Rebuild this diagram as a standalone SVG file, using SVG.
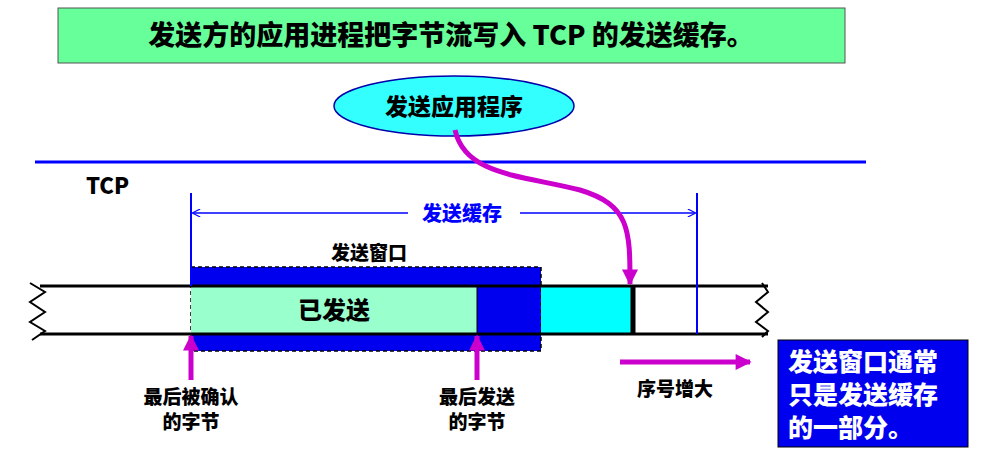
<svg xmlns="http://www.w3.org/2000/svg" width="985" height="459" viewBox="0 0 985 459">
<style>
text{font-family:"Noto Sans CJK SC","Liberation Sans",sans-serif;font-weight:900;}
.mag{stroke:#cc00cc;stroke-width:5;fill:none}
</style>
<defs>
<marker id="ah" viewBox="0 0 10 10" refX="9" refY="5" markerWidth="18" markerHeight="16" markerUnits="userSpaceOnUse" orient="auto"><path d="M0,0L10,5L0,10z" fill="#cc00cc"/></marker>
<marker id="bl" viewBox="0 0 10 10" refX="9" refY="5" markerWidth="10" markerHeight="8" markerUnits="userSpaceOnUse" orient="auto-start-reverse"><path d="M0,0L10,5L0,10" fill="none" stroke="#0000ff" stroke-width="1.5"/></marker>
</defs>
<rect width="985" height="459" fill="#fff"/>
<g id="title"><rect x="58" y="8" width="787" height="55" fill="#66ff99" stroke="#555"/><text x="451" y="45" font-size="27" text-anchor="middle">发送方的应用进程把字节流写入 TCP 的发送缓存。</text></g>
<g id="app"><ellipse cx="454" cy="106" rx="120" ry="30" fill="#33ffff" stroke="#0000aa" stroke-width="1.5"/><text x="454" y="115" font-size="23" text-anchor="middle">发送应用程序</text></g>
<line x1="35" y1="162" x2="866" y2="162" stroke="#0000ff" stroke-width="3"/>
<text x="86" y="194" font-size="22">TCP</text>
<g id="strip">
<rect x="191" y="267" width="350" height="84" fill="#0000ee" stroke="#000" stroke-dasharray="4,3" stroke-width="1.5"/>
<rect x="191" y="286" width="286" height="48" fill="#99ffcc"/>
<rect x="541" y="286" width="91" height="48" fill="#00ffff"/>
<line x1="40" y1="286" x2="768" y2="286" stroke="#000" stroke-width="3"/>
<line x1="40" y1="334" x2="768" y2="334" stroke="#000" stroke-width="3"/>
<line x1="477" y1="286" x2="477" y2="334" stroke="#000" stroke-width="1"/>
<line x1="633" y1="286" x2="633" y2="334" stroke="#000" stroke-width="5"/>
<path d="M30,283 L45,292 L30,302 L45,312 L30,322 L45,331 L32,340" fill="none" stroke="#000" stroke-width="2"/>
<path d="M762,283 L768,292 L756,302 L768,312 L756,322 L768,331 L762,337" fill="none" stroke="#000" stroke-width="2"/>
<text x="334" y="319" font-size="24" text-anchor="middle">已发送</text>
<text x="369" y="260" font-size="19" text-anchor="middle">发送窗口</text>
</g>
<g id="buffer">
<line x1="191" y1="193" x2="191" y2="286" stroke="#0000ff" stroke-width="2"/>
<line x1="697" y1="193" x2="697" y2="334" stroke="#0000ff" stroke-width="2"/>
<line x1="193" y1="213" x2="408" y2="213" stroke="#0000ff" stroke-width="1.5" marker-start="url(#bl)"/>
<line x1="520" y1="213" x2="695" y2="213" stroke="#0000ff" stroke-width="1.5" marker-end="url(#bl)"/>
<text x="462" y="221" font-size="20" fill="#0000ff" text-anchor="middle">发送缓存</text>
</g>
<g id="connectors">
<path class="mag" d="M455,130 C465,175 520,175 580,190 C630,205 630,230 630,284" marker-end="url(#ah)"/>
<line class="mag" x1="191" y1="380" x2="191" y2="336" marker-end="url(#ah)"/>
<line class="mag" x1="477" y1="380" x2="477" y2="336" marker-end="url(#ah)"/>
<line class="mag" x1="620" y1="362" x2="750" y2="362" marker-end="url(#ah)"/>
</g>
<g id="labels">
<text x="191" y="404" font-size="19" text-anchor="middle">最后被确认</text>
<text x="191" y="429" font-size="19" text-anchor="middle">的字节</text>
<text x="477" y="404" font-size="19" text-anchor="middle">最后发送</text>
<text x="477" y="429" font-size="19" text-anchor="middle">的字节</text>
<text x="675" y="396" font-size="19" text-anchor="middle">序号增大</text>
</g>
<g id="note"><rect x="778" y="340" width="190" height="107" fill="#0000ee" stroke="#000"/>
<text font-size="25" fill="#fff"><tspan x="788" y="371">发送窗口通常</tspan><tspan x="788" y="404">只是发送缓存</tspan><tspan x="788" y="437">的一部分。</tspan></text></g>
</svg>
